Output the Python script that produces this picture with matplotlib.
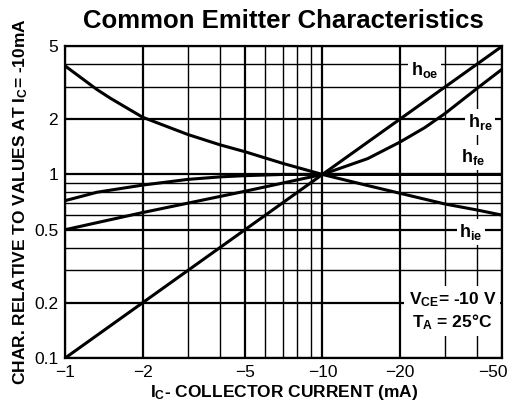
import matplotlib
matplotlib.use("Agg")
import matplotlib.pyplot as plt
import matplotlib.transforms as mtransforms
from matplotlib.ticker import FixedLocator, NullFormatter

plt.rcParams["font.family"] = "Liberation Sans"
plt.rcParams["mathtext.fontset"] = "custom"
plt.rcParams["mathtext.rm"] = "Liberation Sans:bold"
plt.rcParams["mathtext.bf"] = "Liberation Sans:bold"
plt.rcParams["mathtext.it"] = "Liberation Sans:bold"
plt.rcParams["mathtext.default"] = "bf"

# data (|Ic| in mA, ratio to value at Ic = -10 mA)
hoe_x = [1, 50]
hoe_y = [0.1, 5.0]

hre_x = [1, 2, 5, 10, 15, 20, 25, 30, 40, 50]
hre_y = [0.5, 0.62, 0.81, 1.0, 1.22, 1.5, 1.8, 2.15, 2.95, 3.75]

hfe_x = [1, 1.33, 2, 3, 4, 5, 7, 10, 20, 50]
hfe_y = [0.72, 0.8, 0.875, 0.94, 0.97, 0.985, 1.0, 1.0, 1.0, 1.0]

hie_x = [1, 1.33, 1.5, 2, 3, 4, 5, 7, 10, 15, 20, 30, 40, 50]
hie_y = [3.9, 2.9, 2.6, 2.05, 1.65, 1.45, 1.33, 1.15, 1.0, 0.87, 0.79, 0.69, 0.64, 0.6]

x_major = [1, 2, 5, 10, 20, 50]
x_labels = ["\u22121", "\u22122", "\u22125", "\u221210", "\u221220", "\u221250"]
x_minor = [3, 4, 6, 7, 8, 9, 30, 40]
y_major = [0.1, 0.2, 0.5, 1, 2, 5]
y_labels = ["0.1", "0.2", "0.5", "1", "2", "5"]
y_minor = [0.3, 0.4, 0.6, 0.7, 0.8, 0.9, 3, 4]

fig = plt.figure(figsize=(5.13, 4.12), dpi=100)
ax = fig.add_axes([0.127, 0.131, 0.852, 0.757])
ax.set_xscale("log")
ax.set_yscale("log")
ax.set_xlim(1, 50)
ax.set_ylim(0.1, 5)

ax.xaxis.set_major_locator(FixedLocator(x_major))
ax.xaxis.set_minor_locator(FixedLocator(x_minor))
ax.yaxis.set_major_locator(FixedLocator(y_major))
ax.yaxis.set_minor_locator(FixedLocator(y_minor))
ax.set_xticklabels(x_labels)
ax.set_yticklabels(y_labels)
ax.xaxis.set_minor_formatter(NullFormatter())
ax.yaxis.set_minor_formatter(NullFormatter())
ax.tick_params(which="both", length=0, labelsize=12.5, pad=5)

# last x label sits a bit left so it stays inside the figure
last = ax.get_xticklabels()[-1]
last.set_transform(last.get_transform() + mtransforms.ScaledTranslation(-0.09, 0, fig.dpi_scale_trans))

ax.grid(which="major", color="black", linewidth=1.6)
ax.grid(which="minor", color="black", linewidth=1.0)
ax.set_axisbelow(True)
for s in ax.spines.values():
    s.set_linewidth(1.6)

lw = 2.2
ax.plot(hoe_x, hoe_y, color="black", lw=lw, zorder=3)
ax.plot(hre_x, hre_y, color="black", lw=lw, zorder=3)
ax.plot(hfe_x, hfe_y, color="black", lw=lw, zorder=3)
ax.plot(hie_x, hie_y, color="black", lw=lw, zorder=3)

box = dict(facecolor="white", edgecolor="none", pad=2)
kw = dict(fontsize=13, fontweight="bold", ha="center", va="center", bbox=box, zorder=4)
ax.text(25, 3.7, r"h$_{oe}$", **kw)
ax.text(41, 1.93, r"h$_{re}$", **kw)
ax.text(38.4, 1.24, r"h$_{fe}$", **kw)
ax.text(37.8, 0.486, r"h$_{ie}$", **kw)
ax.text(32, 0.18, "V$_{CE}$= -10 V\nT$_A$ = 25\u00b0C", fontsize=12.5,
        fontweight="bold", ha="center", va="center", linespacing=1.2,
        bbox=dict(facecolor="white", edgecolor="none", pad=3), zorder=4)

ax.set_title("Common Emitter Characteristics", fontsize=18.5, fontweight="bold", pad=13)
ax.set_xlabel("I$_C$- COLLECTOR CURRENT (mA)", fontsize=12.5, fontweight="bold", labelpad=2)
ax.set_ylabel("CHAR. RELATIVE TO VALUES AT I$_C$= -10mA", fontsize=12.5,
              fontweight="bold", labelpad=3)

fig.savefig("out.png", dpi=100)
